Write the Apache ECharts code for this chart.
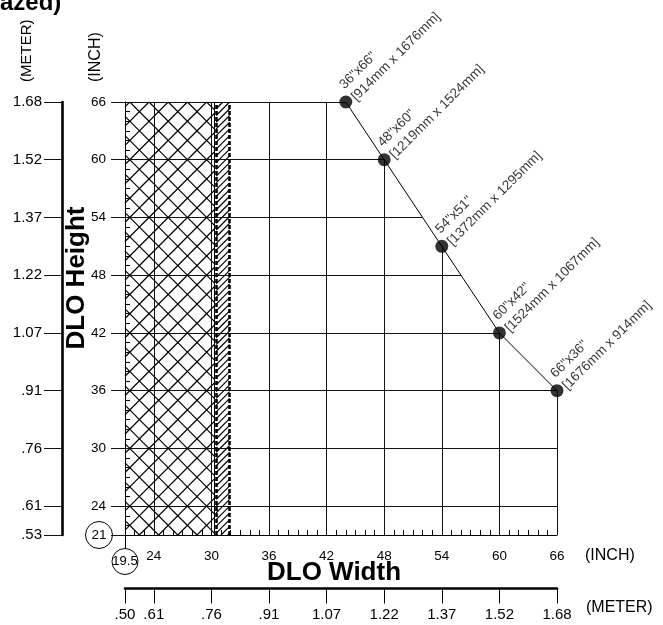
<!DOCTYPE html>
<html><head><meta charset="utf-8">
<script src="https://cdn.jsdelivr.net/npm/echarts@6/dist/echarts.min.js"></script>
<style>html,body{margin:0;padding:0;background:#fff}#c{width:663px;height:625px}</style>
</head><body><div id="c"></div>
<script>
// ---- data ----
const inchTicks = [21, 24, 30, 36, 42, 48, 54, 60, 66];
const xInchLabels = ['19.5', '24', '30', '36', '42', '48', '54', '60', '66'];
const yInchLabels = ['21', '24', '30', '36', '42', '48', '54', '60', '66'];
const xMeterLabels = ['.50', '.61', '.76', '.91', '1.07', '1.22', '1.37', '1.52', '1.68'];
const yMeterLabels = ['.53', '.61', '.76', '.91', '1.07', '1.22', '1.37', '1.52', '1.68'];
const sizeWidths = [44, 48, 54, 60, 66];
const sizeHeights = [66, 60, 51, 42, 36];
const sizeInchLabels = ['36"x66"', '48"x60"', '54"x51"', '60"x42"', '66"x36"'];
const sizeMmLabels = ['[914mm x 1676mm]', '[1219mm x 1524mm]', '[1372mm x 1295mm]', '[1524mm x 1067mm]', '[1676mm x 914mm]'];
const crossHatchRange = [21, 30.3];
const singleHatchRange = [30.5, 31.9];
const thinLineX = [30.3];
const dashedLinesX = [30.5, 31.9];
const AXIS_MIN = 21, AXIS_MAX = 66;

const FONT = '"Liberation Sans", Arial, Helvetica, sans-serif';

// ---- boundary helpers (from the size points) ----
function boundaryXAtY(y) {
  if (y >= sizeHeights[0]) return sizeWidths[0];
  for (let i = 0; i < sizeWidths.length - 1; i++) {
    const y0 = sizeHeights[i], y1 = sizeHeights[i + 1];
    if (y <= y0 && y >= y1) return sizeWidths[i] + (y0 - y) / (y0 - y1) * (sizeWidths[i + 1] - sizeWidths[i]);
  }
  return sizeWidths[sizeWidths.length - 1];
}
function boundaryYAtX(x) {
  if (x <= sizeWidths[0]) return sizeHeights[0];
  for (let i = 0; i < sizeWidths.length - 1; i++) {
    const x0 = sizeWidths[i], x1 = sizeWidths[i + 1];
    if (x >= x0 && x <= x1) return sizeHeights[i] + (x - x0) / (x1 - x0) * (sizeHeights[i + 1] - sizeHeights[i]);
  }
  return sizeHeights[sizeHeights.length - 1];
}

// grid segments
const gridSegs = [];
inchTicks.slice(1).forEach(t => {
  gridSegs.push({ coords: [[AXIS_MIN, t], [boundaryXAtY(t), t]] });
  gridSegs.push({ coords: [[t, AXIS_MIN], [t, boundaryYAtX(t)]] });
});

// hatch segments (pattern geometry)
function diagSegs(x0, x1, y0, y1, step, phase, dir) {
  const out = [];
  if (dir > 0) { // y = x - c
    for (let c = phase + Math.floor((x0 - y1 - phase) / step) * step; c <= x1 - y0; c += step) {
      const lo = Math.max(x0, y0 + c), hi = Math.min(x1, y1 + c);
      if (hi > lo) out.push({ coords: [[lo, lo - c], [hi, hi - c]] });
    }
  } else { // y = d - x
    for (let d = phase + Math.floor((x0 + y0 - phase) / step) * step; d <= x1 + y1; d += step) {
      const lo = Math.max(x0, d - y1), hi = Math.min(x1, d - y0);
      if (hi > lo) out.push({ coords: [[lo, d - lo], [hi, d - hi]] });
    }
  }
  return out;
}
const hatchSegs = []
  .concat(diagSegs(crossHatchRange[0], crossHatchRange[1], AXIS_MIN, AXIS_MAX, 2, 1.5, 1))
  .concat(diagSegs(crossHatchRange[0], crossHatchRange[1], AXIS_MIN, AXIS_MAX, 2, 1.5, -1))
  .concat(diagSegs(singleHatchRange[0], singleHatchRange[1], AXIS_MIN, AXIS_MAX, 0.7, 0.2, 1));

const specialSegs = [];
thinLineX.forEach(x => specialSegs.push({ coords: [[x, AXIS_MIN], [x, AXIS_MAX]], lineStyle: { width: 1, color: '#000', type: 'solid' } }));
dashedLinesX.forEach(x => specialSegs.push({ coords: [[x, AXIS_MIN], [x, AXIS_MAX]], lineStyle: { width: 2.6, color: '#000', type: [4, 2] } }));

const idx = v => inchTicks.indexOf(v);

const chart = echarts.init(document.getElementById('c'), null, { renderer: 'canvas' });
chart.setOption({
  animation: false,
  backgroundColor: '#fff',
  textStyle: { fontFamily: FONT, color: '#000' },
  grid: { left: 125, right: 106, top: 102, bottom: 90, containLabel: false, outerBoundsMode: 'none' },
  xAxis: [
    { // inch axis
      type: 'value', min: AXIS_MIN, max: AXIS_MAX, interval: 3, position: 'bottom', offset: 0,
      axisLine: { show: true, onZero: false, lineStyle: { color: '#000', width: 1 } },
      axisTick: { show: true, customValues: [21], length: 13.5, lineStyle: { color: '#000', width: 1 } },
      axisLabel: {
        customValues: inchTicks, margin: 13.5, color: '#000', fontFamily: FONT,
        formatter: v => (v === 21 ? '{c|' : '{n|') + xInchLabels[idx(v)] + '}',
        rich: {
          n: { fontSize: 13.5, lineHeight: 15, fontFamily: FONT, color: '#000' },
          c: { fontSize: 13, width: 26, height: 26, lineHeight: 26, borderRadius: 13, borderWidth: 1, borderColor: '#000', align: 'center', fontFamily: FONT, color: '#000' }
        }
      },
      splitLine: { show: false }
    },
    { // meter axis
      type: 'value', min: AXIS_MIN, max: AXIS_MAX, interval: 3, position: 'bottom', offset: 53.5,
      axisLine: { show: true, onZero: false, lineStyle: { color: '#000', width: 2.6 } },
      axisTick: { show: true, customValues: inchTicks, length: 15, lineStyle: { color: '#000', width: 1 } },
      axisLabel: { customValues: inchTicks, margin: 19, fontSize: 15, color: '#000', fontFamily: FONT, formatter: v => xMeterLabels[idx(v)] },
      splitLine: { show: false }
    },
    { // minor ticks
      type: 'value', min: AXIS_MIN, max: AXIS_MAX, interval: 1, position: 'bottom', offset: 0,
      axisLine: { show: false, onZero: false },
      axisTick: { show: true, inside: true, length: 5, lineStyle: { color: '#000', width: 1 } },
      axisLabel: { show: false }, splitLine: { show: false }
    }
  ],
  yAxis: [
    { // inch axis
      type: 'value', min: AXIS_MIN, max: AXIS_MAX, interval: 3, position: 'left', offset: 0,
      axisLine: { show: true, onZero: false, lineStyle: { color: '#000', width: 1 } },
      axisTick: { show: true, customValues: inchTicks, length: 14, lineStyle: { color: '#111', width: 1 } },
      axisLabel: {
        customValues: inchTicks, margin: 12.5, color: '#000', fontFamily: FONT,
        formatter: v => (v === 21 ? '{c|' : '{n|') + yInchLabels[idx(v)] + '}',
        rich: {
          n: { fontSize: 13.5, padding: [0, 6.5, 0, 0], fontFamily: FONT, color: '#000' },
          c: { fontSize: 13.5, width: 27, height: 27, lineHeight: 27, borderRadius: 13.5, borderWidth: 1, borderColor: '#000', align: 'center', fontFamily: FONT, color: '#000' }
        }
      },
      splitLine: { show: false }
    },
    { // meter axis
      type: 'value', min: AXIS_MIN, max: AXIS_MAX, interval: 3, position: 'left', offset: 63,
      axisLine: { show: true, onZero: false, lineStyle: { color: '#000', width: 2.6 } },
      axisTick: { show: true, customValues: inchTicks, length: 18, lineStyle: { color: '#111', width: 1 } },
      axisLabel: { customValues: inchTicks, margin: 20, fontSize: 15, color: '#000', fontFamily: FONT, formatter: v => yMeterLabels[idx(v)] },
      splitLine: { show: false }
    },
    { // minor ticks
      type: 'value', min: AXIS_MIN, max: AXIS_MAX, interval: 1, position: 'left', offset: 0,
      axisLine: { show: false, onZero: false },
      axisTick: { show: true, inside: true, length: 5, lineStyle: { color: '#000', width: 1 } },
      axisLabel: { show: false }, splitLine: { show: false }
    }
  ],
  series: [
    {
      type: 'lines', coordinateSystem: 'cartesian2d', xAxisIndex: 0, yAxisIndex: 0, z: 1,
      lineStyle: { color: '#000', width: 1.2, opacity: 1 }, data: hatchSegs, silent: true
    },
    {
      type: 'lines', coordinateSystem: 'cartesian2d', xAxisIndex: 0, yAxisIndex: 0, z: 2,
      lineStyle: { color: '#111', width: 1, opacity: 1 }, data: gridSegs, silent: true
    },
    {
      type: 'lines', coordinateSystem: 'cartesian2d', xAxisIndex: 0, yAxisIndex: 0, z: 3,
      lineStyle: { color: '#000', width: 1, opacity: 1 }, data: specialSegs, silent: true
    },
    {
      type: 'line', xAxisIndex: 0, yAxisIndex: 0, z: 4, symbol: 'none',
      lineStyle: { color: '#000', width: 1 },
      data: sizeWidths.map((w, i) => [w, sizeHeights[i]])
    },
    {
      type: 'scatter', xAxisIndex: 0, yAxisIndex: 0, z: 5, symbolSize: 13,
      itemStyle: { color: '#000' },
      data: sizeWidths.map((w, i) => [w, sizeHeights[i]]),
      label: {
        show: true, position: [20.5, 9.5], rotate: 45, align: 'left', verticalAlign: 'bottom',
        fontSize: 13.5, lineHeight: 17, color: '#000', fontFamily: FONT,
        formatter: p => sizeInchLabels[p.dataIndex] + '\n' + sizeMmLabels[p.dataIndex]
      }
    }
  ],
  graphic: [
    { type: 'text', x: 0, y: 3.5, style: { text: 'azed)', fontSize: 24, fontWeight: 'bold', fontFamily: FONT, fill: '#000', align: 'left', verticalAlign: 'middle' } },
    { type: 'text', x: 77, y: 278, rotation: Math.PI / 2, style: { text: 'DLO Height', fontSize: 26, fontWeight: 'bold', fontFamily: FONT, fill: '#000', align: 'center', verticalAlign: 'middle' } },
    { type: 'text', x: 334, y: 573, style: { text: 'DLO Width', fontSize: 26, fontWeight: 'bold', fontFamily: FONT, fill: '#000', align: 'center', verticalAlign: 'middle' } },
    { type: 'text', x: 27, y: 82, rotation: Math.PI / 2, style: { text: '(METER)', fontSize: 15, fontFamily: FONT, fill: '#000', align: 'left', verticalAlign: 'middle' } },
    { type: 'text', x: 96, y: 82, rotation: Math.PI / 2, style: { text: '(INCH)', fontSize: 16, fontFamily: FONT, fill: '#000', align: 'left', verticalAlign: 'middle' } },
    { type: 'text', x: 585, y: 556, style: { text: '(INCH)', fontSize: 16, fontFamily: FONT, fill: '#000', align: 'left', verticalAlign: 'middle' } },
    { type: 'text', x: 586, y: 608, style: { text: '(METER)', fontSize: 16, fontFamily: FONT, fill: '#000', align: 'left', verticalAlign: 'middle' } }
  ]
});
</script>
</body></html>
